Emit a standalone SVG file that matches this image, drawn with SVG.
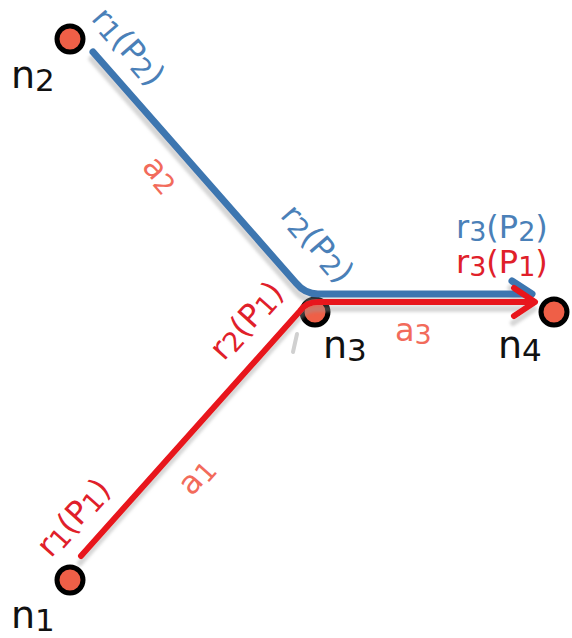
<svg xmlns="http://www.w3.org/2000/svg" width="572" height="638" viewBox="0 0 572 638">
<style>
  text { font-family: "DejaVu Sans", "Liberation Sans", sans-serif; }
  .node circle { fill: #ef5f47; stroke: #000; stroke-width: 5; }
  .nlab { font-size: 38px; fill: #111; }
  .sub { font-size: 31px; }
  .lab { font-size: 32px; }
  .lsub { font-size: 27px; }
  .blue { fill: #4a80b8; }
  .red { fill: #e0202a; }
  .arc { fill: #f26b5b; }
  .bl { fill: none; stroke: #3d76b0; stroke-width: 7; stroke-linejoin: round; stroke-linecap: round; }
  .rl { fill: none; stroke: #e8141b; stroke-width: 6; stroke-linejoin: round; stroke-linecap: round; }
</style>
<defs>
  <filter id="sh" x="-10%" y="-10%" width="120%" height="130%">
    <feGaussianBlur in="SourceAlpha" stdDeviation="1.5" result="b"/>
    <feOffset in="b" dx="-1" dy="7" result="o"/>
    <feFlood flood-color="#999" flood-opacity="0.4"/>
    <feComposite in2="o" operator="in" result="s"/>
    <feMerge><feMergeNode in="s"/><feMergeNode in="SourceGraphic"/></feMerge>
  </filter>
</defs>
<rect width="572" height="638" fill="#fff"/>

<g id="nodes">
  <g id="n1" class="node"><circle cx="70" cy="580" r="13"/>
    <text class="nlab" x="11" y="628">n<tspan class="sub" dy="3">1</tspan></text></g>
  <g id="n2" class="node"><circle cx="70" cy="39" r="13"/>
    <text class="nlab" x="11" y="88">n<tspan class="sub" dy="3">2</tspan></text></g>
  <g id="n3" class="node"><circle cx="315" cy="312" r="13"/>
    <text class="nlab" x="323" y="358">n<tspan class="sub" dy="3">3</tspan></text></g>
  <g id="n4" class="node"><circle cx="554" cy="312" r="13"/>
    <text class="nlab" x="498" y="358">n<tspan class="sub" dy="3">4</tspan></text></g>
</g>

<g id="connectors">
  <line x1="293" y1="352" x2="297" y2="334" stroke="#d0d0d0" stroke-width="4" stroke-linecap="round"/>
  <g filter="url(#sh)">
    <path class="bl" d="M93 52 L296 283 Q305 294 318 294 L530 294"/>
    <path class="bl" d="M512 281 L532 294"/>
    <path class="rl" d="M81 556 L300 311 Q306 302 318 302 L532 302"/>
    <path class="rl" d="M514 288 L535 302 L514 316"/>
  </g>
</g>

<g id="labels">
  <text class="lab blue" x="456" y="238">r<tspan class="lsub" dy="3">3</tspan><tspan dy="-3">(P</tspan><tspan class="lsub" dy="3">2</tspan><tspan dy="-3">)</tspan></text>
  <text class="lab red" x="456" y="273">r<tspan class="lsub" dy="3">3</tspan><tspan dy="-3">(P</tspan><tspan class="lsub" dy="3">1</tspan><tspan dy="-3">)</tspan></text>
  <text class="lab arc" x="395" y="341">a<tspan class="lsub" dy="3">3</tspan></text>

  <g transform="translate(128,47) rotate(49)"><text class="lab blue" text-anchor="middle" y="10">r<tspan class="lsub" dy="3">1</tspan><tspan dy="-3">(P</tspan><tspan class="lsub" dy="3">2</tspan><tspan dy="-3">)</tspan></text></g>
  <g transform="translate(317,244) rotate(49)"><text class="lab blue" text-anchor="middle" y="10">r<tspan class="lsub" dy="3">2</tspan><tspan dy="-3">(P</tspan><tspan class="lsub" dy="3">2</tspan><tspan dy="-3">)</tspan></text></g>
  <g transform="translate(159,176) rotate(49)"><text class="lab arc" text-anchor="middle" y="8">a<tspan class="lsub" dy="3">2</tspan></text></g>

  <g transform="translate(74,518) rotate(-48)"><text class="lab red" text-anchor="middle" y="10">r<tspan class="lsub" dy="3">1</tspan><tspan dy="-3">(P</tspan><tspan class="lsub" dy="3">1</tspan><tspan dy="-3">)</tspan></text></g>
  <g transform="translate(247,321) rotate(-48)"><text class="lab red" text-anchor="middle" y="10">r<tspan class="lsub" dy="3">2</tspan><tspan dy="-3">(P</tspan><tspan class="lsub" dy="3">1</tspan><tspan dy="-3">)</tspan></text></g>
  <g transform="translate(198,478) rotate(-48)"><text class="lab arc" text-anchor="middle" y="8">a<tspan class="lsub" dy="3">1</tspan></text></g>
</g>
</svg>
